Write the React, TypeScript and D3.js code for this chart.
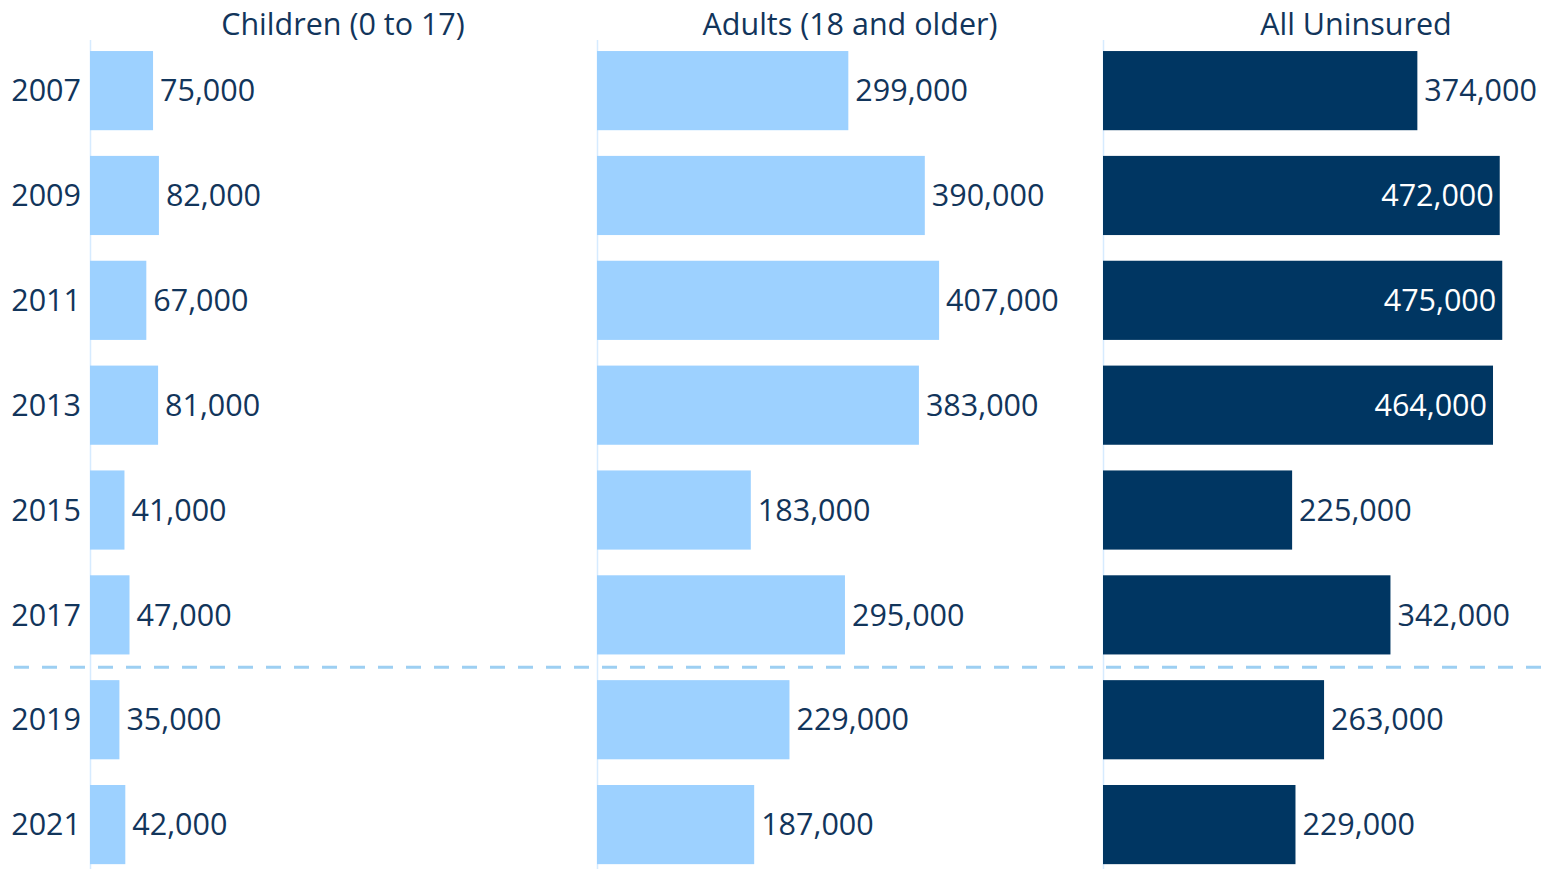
import React from "react";
import * as d3 from "d3";

const years = ["2007", "2009", "2011", "2013", "2015", "2017", "2019", "2021"];
const children = [75000, 82000, 67000, 81000, 41000, 47000, 35000, 42000];
const adults = [299000, 390000, 407000, 383000, 183000, 295000, 229000, 187000];
const allUninsured = [374000, 472000, 475000, 464000, 225000, 342000, 263000, 229000];
const panelTitles = ["Children (0 to 17)", "Adults (18 and older)", "All Uninsured"];
const insideLabelYears = ["2009", "2011", "2013"];

const W = 1543;
const H = 869;
const FONT = "'Open Sans', sans-serif";
const TEXT = "#12355B";
const LIGHT = "#9DD1FF";
const DARK = "#003662";
const FS = 30.5;

export default function App() {
  const panelStarts = [90, 597, 1103];
  const panelWidth = 506;
  const x = d3.scaleLinear().domain([0, 602000]).range([0, panelWidth]);
  const y = d3
    .scaleBand<string>()
    .domain(years)
    .range([38.2, 877])
    .paddingInner(0.245)
    .paddingOuter(0.1225);
  const fmt = d3.format(",");
  const series = [children, adults, allUninsured];
  const colors = [LIGHT, LIGHT, DARK];
  const dashY = ((y("2017") as number) + y.bandwidth() + (y("2019") as number)) / 2;

  return (
    <svg
      width={W}
      height={H}
      style={{ position: "absolute", left: 0, top: 0, background: "#fff" }}
      fontFamily={FONT}
    >
      {series.map((vals, p) => {
        const x0 = panelStarts[p];
        return (
          <g key={p} transform={`translate(${x0},0)`}>
            <text
              x={panelWidth / 2}
              y={35}
              textAnchor="middle"
              fontSize={FS}
              fill={TEXT}
            >
              {panelTitles[p]}
            </text>
            <line x1={0.5} x2={0.5} y1={40} y2={H} stroke="#D6EBFF" strokeWidth={1.5} />
            {vals.map((v, i) => {
              const yr = years[i];
              const yy = y(yr) as number;
              const w = x(v);
              const inside = p === 2 && insideLabelYears.includes(yr);
              return (
                <g key={yr}>
                  <rect x={0} y={yy} width={w} height={y.bandwidth()} fill={colors[p]} />
                  <text
                    x={inside ? w - 6 : w + 7}
                    y={yy + y.bandwidth() / 2}
                    dy="0.35em"
                    textAnchor={inside ? "end" : "start"}
                    fontSize={FS}
                    fill={inside ? "#FFFFFF" : TEXT}
                  >
                    {fmt(v)}
                  </text>
                </g>
              );
            })}
          </g>
        );
      })}
      {years.map((yr) => (
        <text
          key={yr}
          x={81}
          y={(y(yr) as number) + y.bandwidth() / 2}
          dy="0.35em"
          textAnchor="end"
          fontSize={FS}
          fill={TEXT}
        >
          {yr}
        </text>
      ))}
      <line
        x1={14}
        x2={W}
        y1={dashY}
        y2={dashY}
        stroke="#9DCFF2"
        strokeWidth={3}
        strokeDasharray="15 13"
      />
    </svg>
  );
}
